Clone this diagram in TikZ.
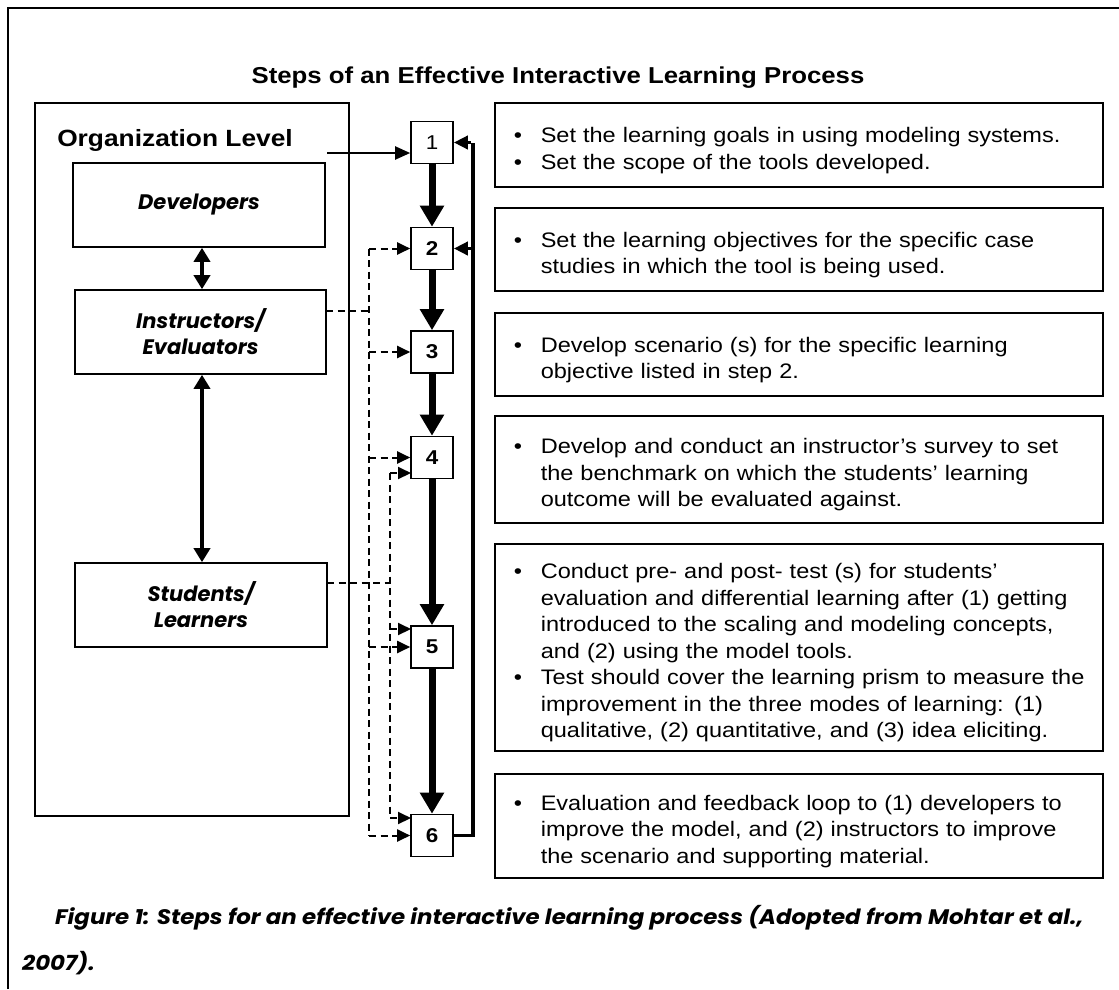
\documentclass[tikz,border=0pt]{standalone}
\usepackage{fontspec}
\setmainfont[FakeStretch=1.12]{Liberation Sans}
\newfontfamily\capfont{Poppins}
\newfontfamily\capwide[FakeStretch=1.09]{Poppins}
\usetikzlibrary{arrows.meta}
\newcommand{\bul}{\par\noindent\hangindent=27pt\hangafter=1\makebox[27pt][l]{\textbullet}}
\newcommand{\tline}[1]{\mbox{#1}}
\begin{document}
\begin{tikzpicture}[x=1pt,y=-1pt,
  box/.style={draw,line width=1.6pt},
  lbl/.style={draw,line width=1.6pt,inner sep=0pt,align=center,font=\capfont\bfseries\itshape\fontsize{21}{26}\selectfont},
  stepbox/.style={draw,line width=1.6pt,minimum width=42pt,minimum height=42pt,inner sep=0pt,font=\bfseries\fontsize{20}{20}\selectfont},
  tbox/.style={draw,line width=1.6pt,anchor=north west,minimum width=608pt,text width=570pt,inner xsep=19pt,inner ysep=0pt,font=\fontsize{21}{26.5}\selectfont\raggedright},
  flow/.style={line width=7pt,-{Triangle[width=23pt,length=21pt]}},
  dbl/.style={line width=4.5pt,{Triangle[width=16pt,length=14pt]}-{Triangle[width=16pt,length=14pt]}},
  fb/.style={line width=3.5pt},
  fbtip/.style={line width=3.5pt,-{Triangle[width=13pt,length=14pt]}},
  thin arrow/.style={line width=2pt,-{Triangle[width=13pt,length=15pt]}},
  dsh/.style={line width=2pt,dash pattern=on 7pt off 4.5pt},
  dshtip/.style={line width=2pt,dash pattern=on 7pt off 4.5pt,-{Triangle[width=12pt,length=13pt]}},
  captext/.style={anchor=west,inner sep=0pt,font=\capwide\bfseries\itshape\fontsize{21}{24}\selectfont}
]
\useasboundingbox (0,0) rectangle (1119,989);
\fill[white] (0,0) rectangle (1119,989);
% page frame
\draw[line width=2pt] (8,989) -- (8,8) -- (1119,8);

% title
\node[font=\bfseries\fontsize{23}{27}\selectfont] (title) at (558,78) {Steps of an Effective Interactive Learning Process};

% organization box
\node[box,anchor=north west,minimum width=314pt,minimum height=713pt,inner sep=0pt] (org) at (34,102) {};
\node[font=\bfseries\fontsize{23.5}{27}\selectfont] (orglbl) at (175,140) {Organization Level};
\node[lbl,minimum width=252pt,minimum height=84pt] (dev) at (199,205) {Developers};
\node[lbl,minimum width=251pt,minimum height=84pt] (instr) at (200.5,332) {Instructors/\\Evaluators};
\node[lbl,minimum width=252pt,minimum height=84pt] (stud) at (201,605) {Students/\\Learners};
\draw[dbl] ([xshift=3pt]dev.south) -- ([xshift=3pt]dev.south |- instr.north);
\draw[dbl] ([xshift=1.5pt]instr.south) -- ([xshift=1.5pt]instr.south |- stud.north);

% step boxes
\node[stepbox] (s1) at (432,142.5) {\mdseries 1};
\node[stepbox] (s2) at (432,248.5) {2};
\node[stepbox] (s3) at (432,352) {3};
\node[stepbox] (s4) at (432,457.5) {4};
\node[stepbox] (s5) at (432,647) {5};
\node[stepbox] (s6) at (432,835.5) {6};
\draw[flow] (s1.south) -- (s2.north);
\draw[flow] (s2.south) -- (s3.north);
\draw[flow] (s3.south) -- (s4.north);
\draw[flow] (s4.south) -- (s5.north);
\draw[flow] (s5.south) -- (s6.north);

% organization arrow
\coordinate (orgout) at (327,153);
\draw[thin arrow] (orgout) -- (orgout -| s1.west);

% feedback loop
\coordinate (fbx) at (473,0);
\draw[fb] (s6.east) -| (fbx |- s1.east);
\draw[fbtip] ([xshift=-1.75pt]fbx |- s1.east) -- (s1.east);
\draw[fbtip] (fbx |- s2.east) -- (s2.east);

% instructors dashed connectors
\coordinate (iout) at (326,311);
\coordinate (ix) at (369,0);
\draw[dsh] (iout) -- (ix |- iout);
\draw[dsh] (ix |- s2.west) -- (ix |- s6.west);
\draw[dshtip] (ix |- s2.west) -- (s2.west);
\draw[dshtip] (ix |- s3.west) -- (s3.west);
\draw[dshtip] (ix |- s4.west) -- (s4.west);
\draw[dshtip] (ix |- s5.west) -- (s5.west);
\draw[dshtip] (ix |- s6.west) -- (s6.west);

% students dashed connectors
\coordinate (sout) at (327,583);
\coordinate (sx) at (390,0);
\coordinate (t4) at (411,473);
\coordinate (t5) at (411,629);
\coordinate (t6) at (411,818);
\draw[dsh] (sout) -- (sx |- sout);
\draw[dsh] (sx |- t4) -- (sx |- t6);
\draw[dshtip] (sx |- t4) -- (t4);
\draw[dshtip] (sx |- t5) -- (t5);
\draw[dshtip] (sx |- t6) -- (t6);

% text boxes
\node[tbox,minimum height=84pt] (ta) at (494,102) {\bul\tline{Set the learning goals in using modeling systems.}\bul\tline{Set the scope of the tools developed.}\par};
\node[tbox,minimum height=83pt] (tb) at (494,207) {\bul\tline{Set the learning objectives for the specific case}\newline\tline{studies in which the tool is being used.}\par};
\node[tbox,minimum height=83pt] (tc) at (494,312) {\bul\tline{Develop scenario (s) for the specific learning}\newline\tline{objective listed in step 2.}\par};
\node[tbox,minimum height=107pt] (td) at (494,415) {\bul\tline{Develop and conduct an instructor's survey to set}\newline\tline{the benchmark on which the students' learning}\newline\tline{outcome will be evaluated against.}\par};
\node[tbox,minimum height=207pt] (te) at (494,543) {\bul\tline{Conduct pre- and post- test (s) for students'}\newline\tline{evaluation and differential learning after (1) getting}\newline\tline{introduced to the scaling and modeling concepts,}\newline\tline{and (2) using the model tools.}\bul\tline{Test should cover the learning prism to measure the}\newline\tline{improvement in the three modes of learning: (1)}\newline\tline{qualitative, (2) quantitative, and (3) idea eliciting.}\par};
\node[tbox,minimum height=104pt] (tf) at (494,773) {\bul\tline{Evaluation and feedback loop to (1) developers to}\newline\tline{improve the model, and (2) instructors to improve}\newline\tline{the scenario and supporting material.}\par};

% caption
\node[captext] (cap1) at (55,918) {Figure 1: Steps for an effective interactive learning process (Adopted from Mohtar et al.,};
\node[captext] (cap2) at (22,963) {2007).};
\end{tikzpicture}
\end{document}
